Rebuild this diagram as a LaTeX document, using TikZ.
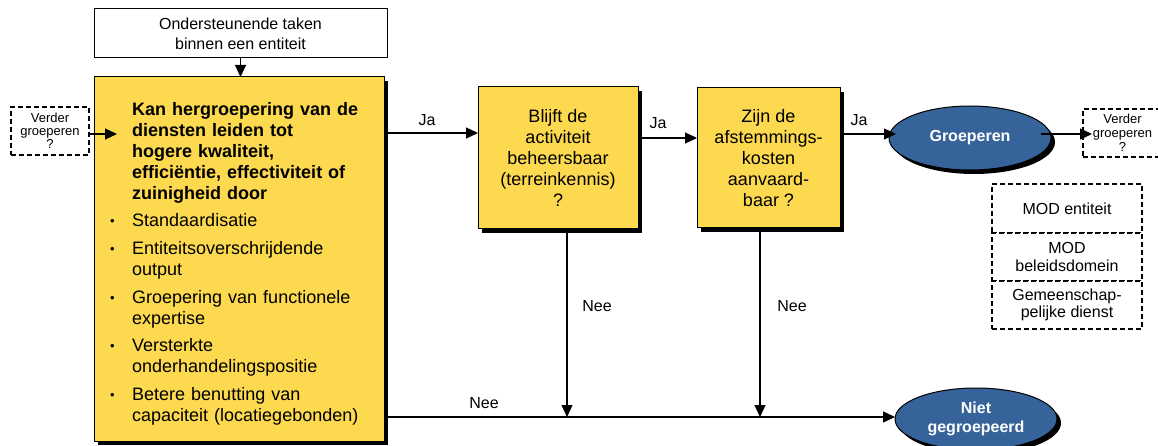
\documentclass[tikz,border=0pt]{standalone}
\usepackage{fontspec}
\setmainfont{Liberation Sans}
\usetikzlibrary{arrows.meta,shapes.geometric,shadows}
\definecolor{boxyellow}{RGB}{252,217,79}
\definecolor{ovalblue}{RGB}{54,99,154}
% one bullet point of the criteria list
\newcommand\critem[1]{\par\vspace{6.6pt}\noindent\llap{\makebox[22pt][l]{\raisebox{1pt}{\fontsize{13}{13}\selectfont\textbullet}}}#1}
\begin{document}
\begin{tikzpicture}[x=1pt,y=-1pt,
  conn/.style={line width=1.2pt,-{Triangle[length=12pt,width=11pt]}},
  shadowed/.style={drop shadow={shadow xshift=4pt,shadow yshift=-4pt,opacity=1,fill=black}},
  ybox/.style={draw=black,line width=1pt,fill=boxyellow,shadowed,inner sep=0pt,outer sep=0pt,
    align=center,font=\fontsize{18}{21}\selectfont},
  dbox/.style={draw=black,line width=1.3pt,dash pattern=on 5pt off 3pt,fill=white,inner sep=0pt,
    outer sep=0pt,align=center},
  oval/.style={ellipse,draw=black,line width=1pt,fill=ovalblue,text=white,shadowed,inner sep=0pt,
    outer sep=0pt,align=center,font=\bfseries\fontsize{16}{19}\selectfont},
  lbl/.style={inner sep=0pt,font=\fontsize{16}{19}\selectfont}]
\useasboundingbox (0,0) rectangle (1158,446);
\clip (0,0) rectangle (1158,446);

% reference heights and columns of the connectors
\coordinate (yja1) at (0,133);
\coordinate (yja2) at (0,138);
\coordinate (yja3) at (0,134);
\coordinate (ynee) at (0,417);
\coordinate (xv1) at (567,0);
\coordinate (xv2) at (760,0);
\coordinate (vgend) at (117,134);

% input box
\node[draw=black,line width=1pt,fill=white,minimum width=293pt,minimum height=49pt,inner sep=0pt,
  outer sep=0pt,align=center,font=\fontsize{16}{20}\selectfont] (top) at (240.5,33.5)
  {Ondersteunende taken\\binnen een entiteit};

% main criteria box
\node[ybox,minimum width=290pt,minimum height=364pt,anchor=north west] (crit) at (94,77) {};
\node[anchor=north west,inner sep=0pt,text width=255pt,align=left,
  font=\fontsize{18}{21}\selectfont] (crittext) at (132,102)
  {\textbf{Kan hergroepering van de\\diensten leiden tot\\hogere kwaliteit,\\efficiëntie, effectiviteit of\\zuinigheid door}%
   \critem{Standaardisatie}%
   \critem{Entiteitsoverschrijdende\\output}%
   \critem{Groepering van functionele\\expertise}%
   \critem{Versterkte\\onderhandelingspositie}%
   \critem{Betere benutting van\\capaciteit (locatiegebonden)}};

% side boxes
\node[dbox,minimum width=78pt,minimum height=48pt,font=\fontsize{13}{13}\selectfont] (vg1) at (50,131)
  {Verder\\groeperen\\?};
\node[dbox,minimum width=79pt,minimum height=48pt,font=\fontsize{13}{14}\selectfont] (vg2) at (1122.5,133)
  {Verder\\groeperen\\?};

% decision boxes
\node[ybox,minimum width=160pt,minimum height=142pt] (b1) at (558,158)
  {Blijft de\\activiteit\\beheersbaar\\(terreinkennis)\\?};
\node[ybox,minimum width=143pt,minimum height=140pt] (b2) at (768.5,158)
  {Zijn de\\afstemmings-\\kosten\\aanvaard-\\baar ?};

% outcomes
\node[oval,minimum width=162pt,minimum height=64pt] (grp) at (970,138) {Groeperen};
\node[oval,minimum width=162pt,minimum height=62pt] (niet) at (976,419) {Niet\\gegroepeerd};

% organisational forms
\node[dbox,minimum width=150pt,minimum height=49pt,font=\fontsize{16}{17.5}\selectfont] (mod1) at (1067,208.5)
  {MOD entiteit};
\node[dbox,minimum width=150pt,minimum height=48pt,font=\fontsize{16}{17.5}\selectfont] (mod2) at (1067,257)
  {MOD\\beleidsdomein};
\node[dbox,minimum width=150pt,minimum height=48pt,font=\fontsize{16}{17.5}\selectfont] (mod3) at (1067,305)
  {Gemeenschap-\\pelijke dienst};

% connectors
\draw[conn] (top.south) -- (top.south |- crit.north);
\draw[conn] (vg1.east |- vgend) -- (vgend);
\draw[conn] (crit.east |- yja1) -- (b1.west |- yja1);
\draw[conn] (b1.east |- yja2) -- (b2.west |- yja2);
\draw[conn] (b2.east |- yja3) -- ([xshift=7pt]grp.west |- yja3);
\draw[conn] ([xshift=-10pt]grp.east |- yja3) -- ([xshift=9pt]vg2.west |- yja3);
\draw[conn] (b1.south -| xv1) -- (xv1 |- ynee);
\draw[conn] (b2.south -| xv2) -- (xv2 |- ynee);
\draw[conn] (crit.east |- ynee) -- (niet.west |- ynee);

% connector labels
\node[lbl] (ja1) at (427,120) {Ja};
\node[lbl] (ja2) at (658,123) {Ja};
\node[lbl] (ja3) at (859,120) {Ja};
\node[lbl] (nee1) at (597,306) {Nee};
\node[lbl] (nee2) at (792,306) {Nee};
\node[lbl] (nee3) at (484,403) {Nee};
\end{tikzpicture}
\end{document}
